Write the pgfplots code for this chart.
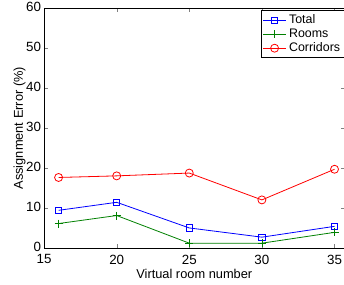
\documentclass[border=0pt]{standalone}
\usepackage{pgfplots}
\pgfplotsset{compat=1.18}
\usepackage{fontspec}
\setmainfont{Liberation Sans}
\begin{document}
\fontsize{9.3pt}{11pt}\selectfont
\begin{tikzpicture}
\useasboundingbox (-33pt,-27pt) rectangle (224.6pt,186pt);
\begin{axis}[
  scale only axis,
  width=225pt, height=180pt,
  xmin=15, xmax=35.69, ymin=0, ymax=60,
  xtick={15,20,25,30,35}, ytick={0,10,20,30,40,50,60},
  tick align=inside,
  major tick length=3pt,
  /pgf/number format/assume math mode=true,
  tick label style={font=\fontsize{10pt}{11pt}\selectfont},
  label style={font=\fontsize{9.6pt}{11pt}\selectfont},
  xlabel={Virtual room number},
  xlabel style={yshift=3pt},
  ylabel={Assignment Error (\%)},
  ylabel style={yshift=-6pt},
  xticklabel style={yshift=-1.5pt},
  yticklabel style={xshift=1pt, yshift=1pt},
  axis line style={line width=0.6pt},
  legend style={at={(rel axis cs:1,0.99)}, anchor=north east, draw=black, line width=0.6pt,
    font=\fontsize{9.3pt}{11pt}\selectfont, inner sep=1pt, row sep=-1.5pt,
    legend cell align=left},
  legend image post style={line width=0.6pt},
  every axis plot/.append style={line width=0.6pt},
]
\addplot[color={rgb,1:red,0;green,0;blue,1}, mark=square, mark size=2.4pt] coordinates {(16,9.5) (20,11.5) (25,5.1) (30,2.8) (35,5.5)};
\addlegendentry{Total}
\addplot[color={rgb,1:red,0;green,0.5;blue,0}, mark=+, mark size=3pt] coordinates {(16,6.2) (20,8.2) (25,1.3) (30,1.3) (35,4.0)};
\addlegendentry{Rooms}
\addplot[color={rgb,1:red,1;green,0;blue,0}, mark=o, mark size=3pt] coordinates {(16,17.7) (20,18.1) (25,18.8) (30,12.1) (35,19.75)};
\addlegendentry{Corridors}
\end{axis}
\end{tikzpicture}
\end{document}
